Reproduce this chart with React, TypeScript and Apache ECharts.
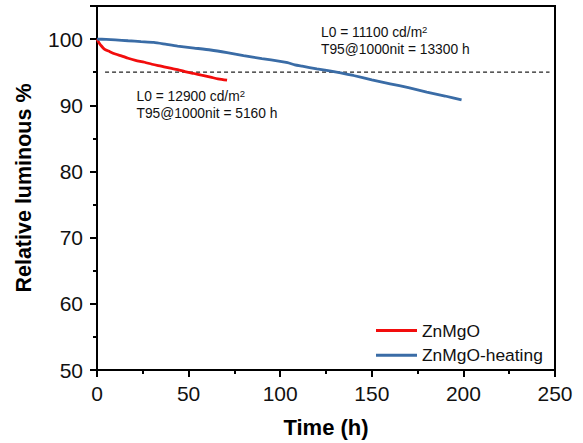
import React, { useEffect, useRef } from "react";
import * as echarts from "echarts";

const seriesNames = ["ZnMgO", "ZnMgO-heating"];

const znmgoTime = [0, 1, 2, 4, 7, 10, 14, 17, 21, 26, 30, 35, 40, 44, 48, 53, 57, 62, 66, 71];
const znmgoValue = [100, 99.5, 99.1, 98.5, 98.1, 97.75, 97.4, 97.1, 96.8, 96.5, 96.2, 95.9, 95.6, 95.4, 95.1, 94.8, 94.55, 94.25, 94.0, 93.8];

const heatingTime = [0, 5, 10, 17, 24, 31, 38, 44, 53, 62, 71, 80, 90, 100, 104, 108, 112, 120, 127, 133, 140, 150, 160, 170, 180, 190, 199];
const heatingValue = [100, 99.95, 99.88, 99.75, 99.62, 99.5, 99.2, 98.95, 98.65, 98.35, 97.95, 97.5, 97.05, 96.65, 96.45, 96.1, 95.9, 95.5, 95.2, 94.9, 94.5, 93.85, 93.25, 92.65, 92.0, 91.4, 90.8];

const thresholdTime = [4.4, 247];
const thresholdValue = [95, 95];

const xTicks = { min: 0, max: 250, interval: 50 };
const yTicks = { min: 50, max: 105, interval: 10 };

const noteUpper = "{t|L0 = 11100 cd/m}{s|2}\n{t|T95@1000nit = 13300 h}";
const noteLower = "{t|L0 = 12900 cd/m}{s|2}\n{t|T95@1000nit = 5160 h}";

const zip = (a: number[], b: number[]) => a.map((v, i) => [v, b[i]]);

export default function App() {
  const ref = useRef<HTMLDivElement>(null);
  useEffect(() => {
    document.body.style.margin = "0";
    if (!ref.current) return;
    const chart = echarts.init(ref.current, null, { renderer: "svg" });
    const font = "'Liberation Sans', Arial, sans-serif";
    const rich = {
      t: { fontFamily: font, fontSize: 13.8, lineHeight: 16.6, fill: "#111", color: "#111" },
      s: { fontFamily: font, fontSize: 9.5, lineHeight: 16.6, fill: "#111", color: "#111", verticalAlign: "top", padding: [0, 0, 6, 0] },
    };
    chart.setOption({
      animation: false,
      backgroundColor: "#fff",
      grid: {
        left: 97,
        right: 28,
        top: 6,
        bottom: 67,
        show: true,
        borderColor: "#000",
        borderWidth: 2,
        backgroundColor: "transparent",
      },
      legend: {
        data: seriesNames,
        orient: "vertical",
        left: 376,
        top: 322,
        padding: 0,
        icon: "rect",
        itemWidth: 41,
        itemHeight: 3,
        itemGap: 7.7,
        textStyle: { fontFamily: font, fontSize: 17.4, color: "#111", lineHeight: 17 },
      },
      xAxis: {
        type: "value",
        ...xTicks,
        name: "Time (h)",
        nameLocation: "middle",
        nameGap: 46,
        nameTextStyle: { fontFamily: font, fontSize: 22, fontWeight: "bold", color: "#000" },
        axisLine: { show: true, onZero: false, lineStyle: { color: "#000", width: 2 } },
        axisTick: { show: true, inside: false, length: 7, lineStyle: { color: "#000", width: 2 } },
        minorTick: { show: true, splitNumber: 2, length: 4, lineStyle: { color: "#000", width: 2 } },
        axisLabel: { margin: 13, fontFamily: font, fontSize: 21, color: "#111" },
        splitLine: { show: false },
      },
      yAxis: {
        type: "value",
        ...yTicks,
        name: "Relative luminous %",
        nameLocation: "middle",
        nameGap: 62,
        nameRotate: 90,
        nameTextStyle: { fontFamily: font, fontSize: 21.5, fontWeight: "bold", color: "#000" },
        axisLine: { show: true, onZero: false, lineStyle: { color: "#000", width: 2 } },
        axisTick: { show: true, inside: false, length: 7, lineStyle: { color: "#000", width: 2 } },
        minorTick: { show: true, splitNumber: 2, length: 4, lineStyle: { color: "#000", width: 2 } },
        axisLabel: { margin: 14, fontFamily: font, fontSize: 21, color: "#111", showMaxLabel: false },
        splitLine: { show: false },
      },
      series: [
        {
          name: "threshold",
          type: "line",
          data: zip(thresholdTime, thresholdValue),
          showSymbol: false,
          silent: true,
          lineStyle: { color: "#222", width: 1.2, type: [4, 3] },
          z: 1,
        },
        {
          name: seriesNames[0],
          type: "line",
          data: zip(znmgoTime, znmgoValue),
          showSymbol: false,
          smooth: 0.3,
          color: "#f20d0d",
          lineStyle: { width: 2.8, color: "#f20d0d" },
          z: 2,
        },
        {
          name: seriesNames[1],
          type: "line",
          data: zip(heatingTime, heatingValue),
          showSymbol: false,
          smooth: 0.2,
          color: "#3a6ca6",
          lineStyle: { width: 2.8, color: "#3a6ca6" },
          z: 3,
        },
      ],
      graphic: [
        {
          type: "text",
          left: 321,
          top: 24.5,
          style: { text: noteUpper, rich, fontFamily: font, fontSize: 13.8, lineHeight: 16.5, fill: "#111" },
        },
        {
          type: "text",
          left: 136.5,
          top: 88.3,
          style: { text: noteLower, rich, fontFamily: font, fontSize: 13.8, lineHeight: 16.6, fill: "#111" },
        },
      ],
    });
    return () => chart.dispose();
  }, []);
  return <div ref={ref} style={{ width: 583, height: 443 }} />;
}
